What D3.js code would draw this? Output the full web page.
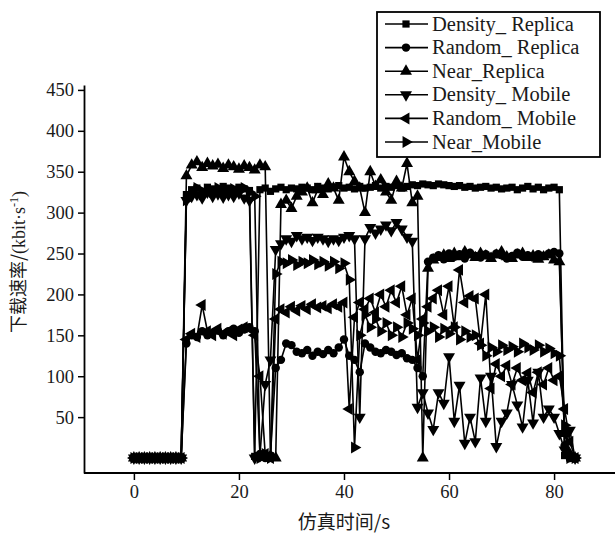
<!DOCTYPE html>
<meta charset="utf-8">
<style>
body { margin: 0; background: #fff; }
text { font-family: "Liberation Serif", "Times New Roman", serif; fill: #1a1a1a; }
.cjk { font-family: "Noto Sans CJK SC", sans-serif; }
</style>
<body>
<script src="https://cdnjs.cloudflare.com/ajax/libs/d3/7.8.5/d3.min.js"></script>
<script>

var times = d3.range(0, 85);

var densityReplica = [0,0,0,0,0,0,0,0,0,0,
  322,328,330,326,331,329,327,332,330,328,331,329,327,2,328,330,326,329,331,328,
  330,329,331,330,328,332,330,329,331,333,330,331,329,332,330,331,333,330,332,331,
  333,330,332,334,333,335,334,333,335,334,333,332,333,331,332,330,331,332,330,331,
  329,330,331,328,330,332,329,331,328,330,331,328,3,0,0];

var randomReplica = [0,0,0,0,0,0,0,0,0,0,
  140,150,148,155,150,153,156,150,155,158,153,157,160,155,5,0,3,110,120,140,
  138,130,128,132,125,130,127,132,128,135,145,125,120,105,140,135,130,128,132,130,
  126,128,122,120,110,100,240,245,248,243,250,246,249,244,251,247,245,249,246,250,
  248,244,247,251,246,248,245,249,247,250,252,250,15,0,0];

var nearReplica = [0,0,0,0,0,0,0,0,0,0,
  345,358,362,355,360,357,359,354,358,356,353,357,355,352,358,356,2,0,310,315,
  305,320,325,330,312,328,322,335,330,315,368,350,338,330,300,350,332,340,325,315,
  338,330,360,312,320,0,232,242,245,248,244,250,246,252,248,245,250,247,244,248,
  252,246,244,248,250,245,247,243,246,248,242,240,30,5,0];

var densityMobile = [0,0,0,0,0,0,0,0,0,0,
  315,320,322,318,325,320,323,319,322,320,324,318,315,0,3,90,120,255,262,268,
  265,272,268,270,266,270,268,265,268,266,270,272,268,50,268,282,275,280,285,278,
  288,280,270,265,62,80,55,35,80,67,124,45,89,18,50,20,98,45,100,14,
  45,55,90,65,38,95,43,105,50,60,50,30,10,34,0];

var randomMobile = [0,0,0,0,0,0,0,0,0,0,
  145,152,148,187,155,150,158,152,155,150,157,160,158,150,100,5,0,170,182,178,
  185,180,186,182,188,184,186,183,188,185,190,60,172,190,182,195,178,200,185,205,
  190,210,175,195,120,170,185,195,205,175,210,160,230,190,198,195,140,200,85,115,
  100,113,90,110,95,104,80,105,90,110,95,100,60,20,0];

var nearMobile = [0,0,0,0,0,0,0,0,0,0,
  315,325,330,322,328,325,330,327,325,329,326,330,325,320,0,5,0,225,240,238,
  242,236,240,238,242,237,240,235,240,232,238,218,13,150,175,160,170,155,165,150,
  160,148,165,158,150,165,155,160,148,158,152,160,145,155,148,150,138,125,135,130,
  138,132,136,130,140,135,132,138,130,134,128,125,40,0,0];

var seriesNames = ["Density_ Replica", "Random_ Replica", "Near_Replica",
                   "Density_ Mobile", "Random_ Mobile", "Near_Mobile"];
var seriesValues = [densityReplica, randomReplica, nearReplica,
                    densityMobile, randomMobile, nearMobile];

var xTicks = [0, 20, 40, 60, 80];
var yTicks = [50, 100, 150, 200, 250, 300, 350, 400, 450];

// marker shape + rotation per series
var markers = [
  {type: d3.symbolSquare, size: 52, rot: 0},
  {type: d3.symbolCircle, size: 56, rot: 0},
  {type: d3.symbolTriangle, size: 62, rot: 0},
  {type: d3.symbolTriangle, size: 62, rot: 180},
  {type: d3.symbolTriangle, size: 62, rot: -90},
  {type: d3.symbolTriangle, size: 62, rot: 90}
];

var width = 615, height = 535;

var svg = d3.select("body").append("svg")
    .attr("width", width)
    .attr("height", height);

var x = d3.scaleLinear().domain([-9.5, 91.6]).range([84, 615]);
var y = d3.scaleLinear().domain([-18.3, 456]).range([473, 85]);

// series
var line = d3.line()
    .x(function(d, i) { return x(times[i]); })
    .y(function(d) { return y(d); });

seriesValues.forEach(function(vals, s) {
  var g = svg.append("g");
  g.append("path")
      .datum(vals)
      .attr("d", line)
      .attr("fill", "none")
      .attr("stroke", "#000")
      .attr("stroke-width", 1.6);
  var sym = d3.symbol().type(markers[s].type).size(markers[s].size);
  g.selectAll("path.m")
      .data(vals)
    .enter().append("path")
      .attr("class", "m")
      .attr("d", sym)
      .attr("transform", function(d, i) {
        return "translate(" + x(times[i]) + "," + y(d) + ") rotate(" + markers[s].rot + ")";
      })
      .attr("fill", "#000");
});

// axes
var xAxis = svg.append("g")
    .attr("transform", "translate(0,473)")
    .call(d3.axisBottom(x).tickValues(xTicks).tickSize(7).tickPadding(5).tickSizeOuter(0));
var yAxis = svg.append("g")
    .attr("transform", "translate(84,0)")
    .call(d3.axisLeft(y).tickValues(yTicks).tickSize(6).tickPadding(4).tickSizeOuter(0));

[xAxis, yAxis].forEach(function(a) {
  a.select(".domain").attr("stroke", "#000").attr("stroke-width", 1.8);
  a.selectAll(".tick line").attr("stroke", "#000").attr("stroke-width", 1.5);
  a.selectAll(".tick text")
      .style("font-family", "'Liberation Serif', serif")
      .style("font-size", "18.5px")
      .attr("fill", "#1a1a1a");
});
xAxis.select(".domain").attr("d", "M84,0H615");

svg.append("text")
    .attr("class", "cjk")
    .attr("x", 344)
    .attr("y", 529)
    .attr("text-anchor", "middle")
    .style("font-size", "19px")
    .text("仿真时间/s");

svg.append("text")
    .attr("transform", "translate(25,262) rotate(-90)")
    .attr("text-anchor", "middle")
    .style("font-size", "18px")
    .html('<tspan class="cjk">下载速率/</tspan><tspan>(kbit·s</tspan><tspan dy="-7" style="font-size:12px">-1</tspan><tspan dy="7">)</tspan>');

// legend
var legend = svg.append("g");
legend.append("rect")
    .attr("x", 377).attr("y", 12)
    .attr("width", 223).attr("height", 145)
    .attr("fill", "#fff")
    .attr("stroke", "#000")
    .attr("stroke-width", 1.8);

seriesNames.forEach(function(name, s) {
  var ly = 24 + s * 23.6;
  legend.append("line")
      .attr("x1", 385).attr("x2", 428)
      .attr("y1", ly).attr("y2", ly)
      .attr("stroke", "#000").attr("stroke-width", 1.6);
  legend.append("path")
      .attr("d", d3.symbol().type(markers[s].type).size(markers[s].size))
      .attr("transform", "translate(406," + ly + ") rotate(" + markers[s].rot + ")")
      .attr("fill", "#000");
  legend.append("text")
      .attr("x", 432)
      .attr("y", ly + 6.5)
      .style("font-size", "20.5px")
      .text(name);
});

</script>
</body>
